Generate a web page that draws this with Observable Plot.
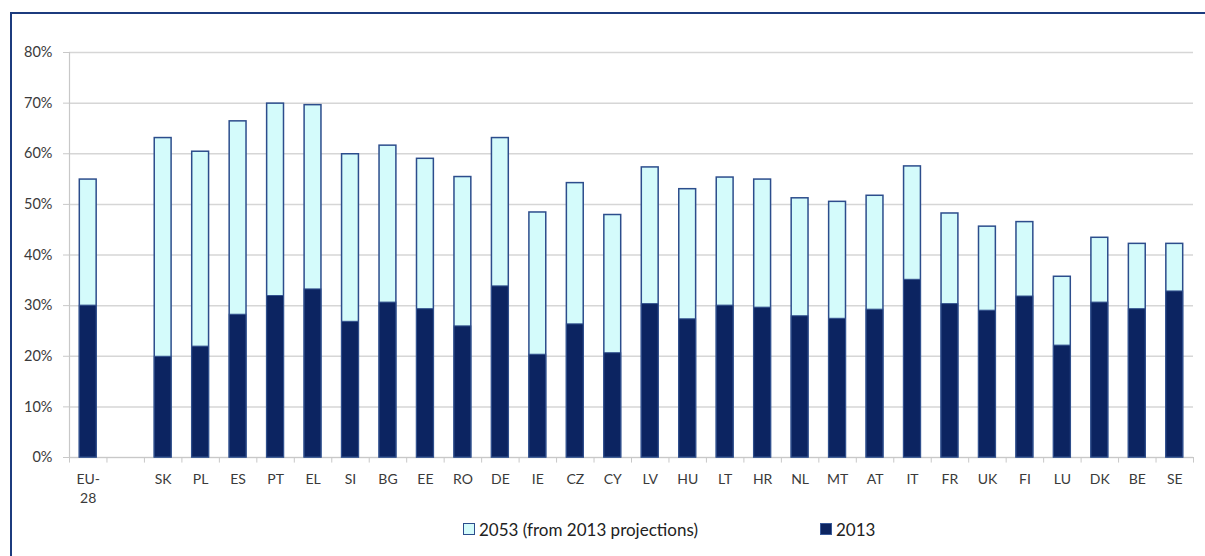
<!DOCTYPE html>
<html>
<head>
<meta charset="utf-8">
<script src="https://cdn.jsdelivr.net/npm/d3@7"></script>
<script src="https://cdn.jsdelivr.net/npm/@observablehq/plot@0.6"></script>
<style>
  html, body { margin: 0; padding: 0; background: #fff; overflow: hidden; }
  body { width: 1205px; height: 556px; position: relative; font-family: Lato, "Open Sans", sans-serif; }
  #frame { position: absolute; left: 10px; top: 12px; width: 1300px; height: 700px;
           border-top: 2px solid #1c3b7e; border-left: 2px solid #1c3b7e; box-sizing: border-box; }
  #chart { position: absolute; left: 0; top: 0; }
  #legend { position: absolute; left: 0; top: 517px; width: 1205px; height: 24px; font-size: 17px; color: #222; }
  .item { position: absolute; top: 0; display: flex; align-items: center; height: 24px; }
  .sw { width: 12px; height: 12px; margin-right: 4px; box-sizing: border-box; }
</style>
</head>
<body>
<div id="frame"></div>
<div id="chart"></div>
<div id="legend">
  <div class="item" style="left:463px"><span class="sw" style="background:#d4fbfb;border:1.5px solid #2c4d8c"></span><span id="l1"></span></div>
  <div class="item" style="left:820px"><span class="sw" style="background:#0c2461;border:1px solid #3a5a9a"></span><span id="l2"></span></div>
</div>
<script>
const categories = ["EU-28", "", "SK", "PL", "ES", "PT", "EL", "SI", "BG", "EE", "RO", "DE", "IE", "CZ", "CY", "LV", "HU", "LT", "HR", "NL", "MT", "AT", "IT", "FR", "UK", "FI", "LU", "DK", "BE", "SE"];
const values2053 = [54.9, null, 63.1, 60.4, 66.4, 69.9, 69.6, 59.9, 61.6, 59.0, 55.4, 63.1, 48.4, 54.2, 47.9, 57.3, 53.0, 55.3, 54.9, 51.2, 50.5, 51.7, 57.5, 48.2, 45.6, 46.5, 35.7, 43.4, 42.2, 42.2];
const values2013 = [30.0, null, 19.9, 21.9, 28.2, 31.9, 33.2, 26.8, 30.6, 29.3, 25.9, 33.8, 20.3, 26.3, 20.6, 30.3, 27.3, 30.0, 29.6, 27.9, 27.4, 29.2, 35.1, 30.3, 29.0, 31.8, 22.1, 30.6, 29.3, 32.8];
const yTicks = [0, 10, 20, 30, 40, 50, 60, 70, 80];
const seriesNames = ["2053 (from 2013 projections)", "2013"];

document.getElementById("l1").textContent = seriesNames[0];
document.getElementById("l2").textContent = seriesNames[1];

const keys = categories.map((c, i) => c === "" ? "gap" : c);
const all = keys.map((k, i) => ({key: k, label: categories[i] === "EU-28" ? "EU-\n28" : categories[i], v53: values2053[i], v13: values2013[i]}));
const data = all.filter(d => d.v53 != null);

const W = 1205, H = 556, mL = 69, mR = 12, mT = 52, mB = 99;
const step = (W - mL - mR) / keys.length;

const chart = Plot.plot({
  width: W, height: H,
  marginLeft: mL, marginRight: mR, marginTop: mT, marginBottom: mB,
  style: {fontFamily: "Lato, 'Open Sans', sans-serif", fontSize: "14px", color: "#3a3a3a", background: "transparent"},
  x: {domain: keys, paddingInner: 0.55, paddingOuter: 0.275, round: false, label: null, axis: null},
  y: {domain: [0, 80], label: null},
  marks: [
    Plot.gridY(yTicks, {stroke: "#d6d6d6", strokeOpacity: 1, strokeWidth: 1.5}),
    Plot.axisY({ticks: yTicks, tickFormat: d => d + "%", tickSize: 6, tickPadding: 11, stroke: "#c8c8c8", fontSize: 14.5, label: null}),
    Plot.ruleX([0], {x: () => keys[0], y1: 0, y2: 80, dx: -step / 2, stroke: "#c8c8c8", strokeWidth: 1.2}),
    Plot.ruleY([0], {stroke: "#c8c8c8", strokeWidth: 1.2}),
    Plot.ruleX(keys, {x: d => d, y1: 0, y2: -1.1, dx: -step / 2, stroke: "#c8c8c8"}),
    Plot.ruleX([keys[keys.length - 1]], {x: d => d, y1: 0, y2: -1.1, dx: step / 2, stroke: "#c8c8c8"}),
    Plot.text(all, {x: "key", y: 0, text: "label", dy: 13, lineAnchor: "top", lineHeight: 1.35, fontSize: 14, fill: "#3a3a3a"}),
    Plot.barY(data, {x: "key", y: "v53", fill: "#d4fbfb", stroke: "#2c4d8c", strokeWidth: 1.5}),
    Plot.barY(data, {x: "key", y: "v13", fill: "#0c2461", stroke: "#33528f", strokeWidth: 1})
  ]
});
document.getElementById("chart").appendChild(chart);
</script>
</body>
</html>
